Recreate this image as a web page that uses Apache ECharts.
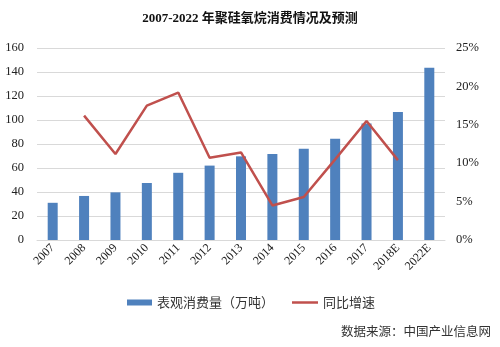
<!DOCTYPE html>
<html><head><meta charset="utf-8">
<script src="https://cdn.jsdelivr.net/npm/echarts@6/dist/echarts.min.js"></script>
<style>html,body{margin:0;padding:0;background:#fff}#c{width:500px;height:347px}</style>
</head><body><div id="c"></div>
<script>
const categories = ['2007','2008','2009','2010','2011','2012','2013','2014','2015','2016','2017','2018E','2022E'];
const consumption = [31, 36.7, 39.7, 47.5, 56, 62, 69.7, 71.7, 76, 84.4, 97, 106.7, 143.5];
const growth = [null, 16.2, 11.2, 17.5, 19.2, 10.7, 11.4, 4.5, 5.6, 10.5, 15.5, 10.4, null];
const leftTicks = [0, 160, 20];
const rightTicks = [0, 25, 5];
const serif = '"Liberation Serif", "Times New Roman", serif';
const legendText = { fontFamily: '"Noto Sans CJK SC"', fontSize: 13, color: '#333' };
const chart = echarts.init(document.getElementById('c'));
chart.setOption({
  animation: false,
  backgroundColor: '#fff',
  title: {
    text: '2007-2022 年聚硅氧烷消费情况及预测',
    left: 'center', top: 7,
    textStyle: { fontFamily: '"Liberation Serif", "Noto Sans CJK SC", serif', fontWeight: 'bold', fontSize: 13, color: '#111' }
  },
  graphic: [{
    type: 'text', right: 9, top: 325,
    style: { text: '数据来源：中国产业信息网', font: '12.5px "Noto Sans CJK SC"', fill: '#333' }
  }],
  legend: [{
    top: 291, left: 122, itemWidth: 25, itemHeight: 6,
    textStyle: legendText,
    data: [{ name: '表观消费量（万吨）', icon: 'rect' }]
  }, {
    top: 291, left: 287, itemWidth: 26, itemHeight: 2.5,
    textStyle: legendText,
    data: [{ name: '同比增速', icon: 'rect' }]
  }],
  grid: { left: 37, right: 55, top: 48, bottom: 107 },
  xAxis: {
    type: 'category', data: categories,
    axisTick: { show: false },
    axisLine: { lineStyle: { color: '#d9d9d9' } },
    axisLabel: { rotate: 45, margin: 6, fontFamily: serif, fontSize: 12, color: '#222', interval: 0 }
  },
  yAxis: [{
    type: 'value', min: leftTicks[0], max: leftTicks[1], interval: leftTicks[2],
    axisLine: { show: false }, axisTick: { show: false },
    splitLine: { lineStyle: { color: '#d9d9d9' } },
    axisLabel: { fontFamily: serif, fontSize: 12.5, color: '#222', margin: 13 }
  }, {
    type: 'value', min: rightTicks[0], max: rightTicks[1], interval: rightTicks[2],
    axisLine: { show: false }, axisTick: { show: false },
    splitLine: { show: false },
    axisLabel: { fontFamily: serif, fontSize: 12.5, color: '#222', formatter: '{value}%', margin: 11 }
  }],
  series: [{
    name: '表观消费量（万吨）', type: 'bar', data: consumption,
    barWidth: 10, itemStyle: { color: '#4f81bd' }
  }, {
    name: '同比增速', type: 'line', yAxisIndex: 1, data: growth,
    symbol: 'none', lineStyle: { color: '#c0504d', width: 2.5 }, itemStyle: { color: '#c0504d' }
  }]
});
</script></body></html>
